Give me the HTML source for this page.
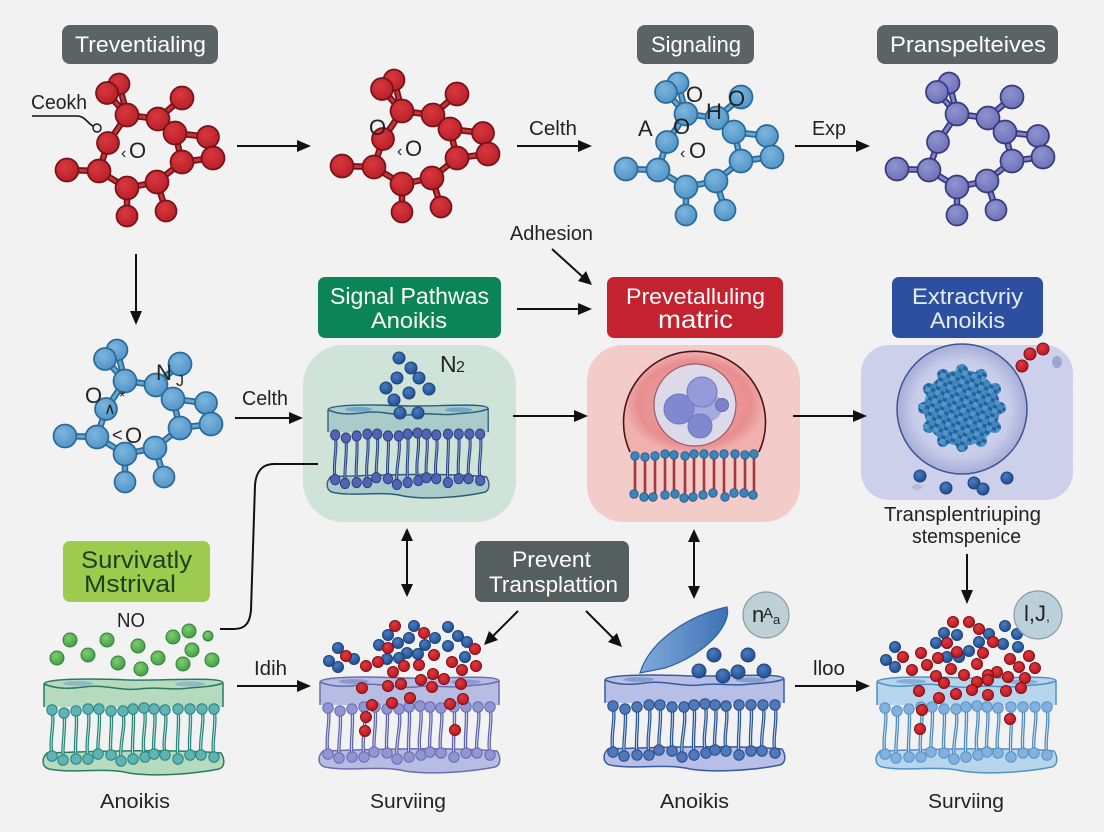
<!DOCTYPE html>
<html><head><meta charset="utf-8">
<style>
html,body{margin:0;padding:0;background:#f2f2f2}
svg{display:block}
text{font-family:"Liberation Sans",sans-serif;fill:#232323;font-size:20px}
.hd{font-size:22px;fill:#fff}
.s55 circle{r:5.5px}.s7 circle{r:7px}.s6 circle{r:6px}
.ar{stroke:#111;stroke-width:2;fill:none}
.rd{fill:url(#gRed);stroke:#7e1016;stroke-width:1}
.bl{fill:url(#gBlue);stroke:#1c447a;stroke-width:1}
.gr{fill:url(#gGreen);stroke:#2f8038;stroke-width:1}
</style></head>
<body>
<svg width="1104" height="832" viewBox="0 0 1104 832" xmlns="http://www.w3.org/2000/svg">
<defs>
<radialGradient id="gRed" cx=".4" cy=".35" r=".7"><stop offset="0" stop-color="#e0383e"/><stop offset="1" stop-color="#b5161e"/></radialGradient>
<radialGradient id="gBlue" cx=".4" cy=".35" r=".7"><stop offset="0" stop-color="#4a7cc0"/><stop offset="1" stop-color="#1f4b90"/></radialGradient>
<radialGradient id="gGreen" cx=".4" cy=".35" r=".7"><stop offset="0" stop-color="#7fcc6f"/><stop offset="1" stop-color="#409c45"/></radialGradient>
<radialGradient id="gRedA" cx=".4" cy=".35" r=".7"><stop offset="0" stop-color="#d8383e"/><stop offset="1" stop-color="#b81f26"/></radialGradient>
<radialGradient id="gSky" cx=".4" cy=".35" r=".7"><stop offset="0" stop-color="#7db6de"/><stop offset="1" stop-color="#4f93c6"/></radialGradient>
<radialGradient id="gPur" cx=".4" cy=".35" r=".7"><stop offset="0" stop-color="#8f94cf"/><stop offset="1" stop-color="#6b70b6"/></radialGradient>
<radialGradient id="gCell" cx=".5" cy=".5" r=".5"><stop offset="0" stop-color="#dfe2f3"/><stop offset=".75" stop-color="#c6cbe8"/><stop offset="1" stop-color="#a6add8"/></radialGradient>
<radialGradient id="gDome" cx=".5" cy=".5" r=".5"><stop offset="0" stop-color="#f2a8a8"/><stop offset=".8" stop-color="#e88e90"/><stop offset="1" stop-color="#f0b0ae"/></radialGradient>
<linearGradient id="gLeaf" x1="0" y1="0" x2="1" y2="0"><stop offset="0" stop-color="#7eaadb"/><stop offset="1" stop-color="#3f72b6"/></linearGradient>
<pattern id="pc" width="10" height="9" patternUnits="userSpaceOnUse" patternTransform="rotate(18)">
<rect width="10" height="9" fill="#25609c"/>
<circle cx="2.5" cy="2.2" r="3.4" fill="#4f97c9"/><circle cx="7.5" cy="6.7" r="3.4" fill="#4288bd"/>
</pattern>

<path id="bonds" d="M119 84L127 115M107 93L127 115M127 115L158 119M127 115L108 143M158 119L182 98M158 119L175 133M175 133L208 137M175 133L182 162M208 137L213 158M213 158L182 162M182 162L157 182M157 182L127 188M157 182L166 211M127 188L127 216M127 188L99 171M99 171L67 170M99 171L108 143"/>
<g id="mol">
<use href="#bonds" style="fill:none;stroke:var(--s);stroke-width:6.5"/>
<use href="#bonds" style="fill:none;stroke:var(--f2);stroke-width:3"/>
<g style="fill:var(--f);stroke:var(--s);stroke-width:1.7">
<circle cx="119" cy="84" r="10.5"/><circle cx="107" cy="93" r="11"/><circle cx="127" cy="115" r="11.5"/><circle cx="182" cy="98" r="11.5"/><circle cx="158" cy="119" r="11.5"/><circle cx="175" cy="133" r="11.5"/><circle cx="208" cy="137" r="11"/><circle cx="213" cy="158" r="11.5"/><circle cx="182" cy="162" r="11.5"/><circle cx="157" cy="182" r="11.5"/><circle cx="127" cy="188" r="11.5"/><circle cx="127" cy="216" r="10.5"/><circle cx="166" cy="211" r="10.5"/><circle cx="99" cy="171" r="11.5"/><circle cx="67" cy="170" r="11.5"/><circle cx="108" cy="143" r="11"/>
</g>
</g>

<path id="tails" d="M8 33C11 47 5 62 8 79M20 36C22 50 18 66 19 83M32 34C34 50 30 66 32 82M44 32C47 48 41 64 44 82M55 32C57 48 53 62 54 77M67 34C69 48 65 64 67 78M79 36C82 50 75 68 77 84M89 32C91 48 87 64 89 82M100 31C104 46 96 64 101 80M110 32C113 46 108 62 110 77M121 33C124 48 118 62 121 78M134 32C136 48 132 66 134 82M146 32C148 46 144 62 146 78M158 32C161 46 155 62 157 78M170 32C173 48 167 64 170 80"/>
<g id="mem">
<path d="M3 76C-3 82-2 90 5 92C30 97 60 90 85 96C110 100 150 97 175 92C181 90 181 82 177 76C130 72 60 74 3 76Z" style="fill:var(--fa);stroke:var(--st);stroke-width:1.5"/>
<path d="M0 7C0 2 40 1 85 3C120 4 179-1 179 6V30H0Z" style="fill:var(--fa)"/>
<ellipse cx="34" cy="6.5" rx="15" ry="2.5" style="fill:var(--e)"/>
<ellipse cx="146" cy="7" rx="15" ry="2.5" style="fill:var(--e)"/>
<path d="M0 30V7C0 2 40 1 85 3C120 4 179-1 179 6V30M0 7C12 12 25 12 40 10C60 7 75 14 95 12C115 9 125 14 145 11C160 10 172 9 179 6" style="fill:none;stroke:var(--st);stroke-width:1.5"/>
<use href="#tails" style="fill:none;stroke:var(--t);stroke-width:3.4"/>
<use href="#tails" style="fill:none;stroke:var(--t2);stroke-width:.9"/>
<g style="fill:var(--h);stroke:var(--hs);stroke-width:1.1">
<circle cx="8" cy="33" r="5.2"/><circle cx="20" cy="36" r="5.2"/><circle cx="32" cy="34" r="5.2"/><circle cx="44" cy="32" r="5.2"/><circle cx="55" cy="32" r="5.2"/><circle cx="67" cy="34" r="5.2"/><circle cx="79" cy="34" r="5.2"/><circle cx="89" cy="32" r="5.2"/><circle cx="100" cy="31" r="5.2"/><circle cx="110" cy="32" r="5.2"/><circle cx="121" cy="33" r="5.2"/><circle cx="134" cy="32" r="5.2"/><circle cx="146" cy="32" r="5.2"/><circle cx="158" cy="32" r="5.2"/><circle cx="170" cy="32" r="5.2"/>
<circle cx="8" cy="79" r="5.2"/><circle cx="19" cy="83" r="5.2"/><circle cx="32" cy="82" r="5.2"/><circle cx="44" cy="82" r="5.2"/><circle cx="54" cy="77" r="5.2"/><circle cx="67" cy="78" r="5.2"/><circle cx="77" cy="84" r="5.2"/><circle cx="89" cy="82" r="5.2"/><circle cx="101" cy="80" r="5.2"/><circle cx="110" cy="77" r="5.2"/><circle cx="121" cy="78" r="5.2"/><circle cx="134" cy="82" r="5.2"/><circle cx="146" cy="78" r="5.2"/><circle cx="157" cy="78" r="5.2"/><circle cx="170" cy="80" r="5.2"/>
</g>
</g>
</defs>

<rect width="1104" height="832" fill="#f2f2f2"/>

<!-- panels -->
<rect x="303" y="345" width="213" height="177" rx="40" fill="#cfe3d9"/>
<rect x="587" y="345" width="213" height="177" rx="36" fill="#f3cbc8"/>
<rect x="861" y="345" width="212" height="155" rx="28" fill="#cdd0ea"/>

<!-- molecules -->
<use href="#mol" style="--f:url(#gRedA);--f2:#c8343a;--s:#741218"/>
<use href="#mol" transform="translate(275,-4)" style="--f:url(#gRedA);--f2:#c8343a;--s:#741218"/>
<use href="#mol" transform="translate(559,-1)" style="--f:url(#gSky);--f2:#66a6d2;--s:#2a6a9a"/>
<use href="#mol" transform="translate(830,-1)" style="--f:url(#gPur);--f2:#7f84c4;--s:#38397f"/>
<use href="#mol" transform="translate(-2,266)" style="--f:url(#gSky);--f2:#66a6d2;--s:#2a6a9a"/>

<!-- membranes -->
<use href="#mem" transform="translate(328,403) scale(.895,.97)" style="--fa:#a9cbc9;--st:#2c5d7a;--h:#5064b2;--hs:#2e3f88;--t:#2c4a88;--t2:#9fb4d0;--e:#6fa6cf"/>
<use href="#mem" transform="translate(44,677)" style="--fa:#b5dabd;--st:#2a7a5e;--h:#5fb3b3;--hs:#2c8886;--t:#2a8a7e;--t2:#c7e6de;--e:#8fb8c8"/>
<use href="#mem" transform="translate(320,675)" style="--fa:#b7bce3;--st:#6a6eb0;--h:#8f96d2;--hs:#6a70b4;--t:#6067ae;--t2:#d5d8ef;--e:#8f97d2"/>
<use href="#mem" transform="translate(605,673)" style="--fa:#b8bfe6;--st:#3a5aa0;--h:#5077b8;--hs:#2a4f8f;--t:#2f5a9c;--t2:#c9d4ec;--e:#7f9fd0"/>
<use href="#mem" transform="translate(877,675)" style="--fa:#b7d5ed;--st:#5590c4;--h:#82b1dd;--hs:#5c94c8;--t:#4f8cc0;--t2:#d5e6f4;--e:#86b0dc"/>

<!-- N2 cluster -->
<g class="bl s6"><circle cx="399" cy="358"/><circle cx="411" cy="368"/><circle cx="397" cy="378"/><circle cx="419" cy="378"/><circle cx="386" cy="388"/><circle cx="409" cy="393"/><circle cx="429" cy="389"/><circle cx="394" cy="400"/><circle cx="400" cy="413"/><circle cx="418" cy="413"/></g>

<!-- pink cell -->
<path d="M630 452A71 71 0 1 1 759 452L754 455H635Z" fill="url(#gDome)"/>
<path d="M630 452A71 71 0 1 1 759 452" fill="none" stroke="#4a1418" stroke-width="1.6"/>
<circle cx="695" cy="405" r="41" fill="#dcd9e8" stroke="#9a5a6a" stroke-width="1.2"/>
<circle cx="707" cy="407" r="15" fill="#a5abdc"/>
<circle cx="679" cy="409" r="15" fill="#8088d0" stroke="#7078c2"/>
<circle cx="702" cy="392" r="15" fill="#949bd8" stroke="#7078c2"/>
<circle cx="700" cy="426" r="12" fill="#8088d0" stroke="#7078c2"/>
<circle cx="722" cy="405" r="6.5" fill="#7c82c8" stroke="#666cb6"/>
<path d="M635 456V494M645 457V497M655 456V497M665 454V495M674 455V494M685 456V498M694 454V497M704 454V495M714 455V493M724 454V497M735 454V493M745 455V493M754 454V495" stroke="#a5383c" stroke-width="2.6" fill="none"/>
<g fill="#3a86b8" stroke="#2a5f92"><circle cx="635" cy="456" r="4.2"/><circle cx="645" cy="457" r="4.2"/><circle cx="655" cy="456" r="4.2"/><circle cx="665" cy="454" r="4.2"/><circle cx="674" cy="455" r="4.2"/><circle cx="685" cy="456" r="4.2"/><circle cx="694" cy="454" r="4.2"/><circle cx="704" cy="454" r="4.2"/><circle cx="714" cy="455" r="4.2"/><circle cx="724" cy="454" r="4.2"/><circle cx="735" cy="454" r="4.2"/><circle cx="745" cy="455" r="4.2"/><circle cx="754" cy="454" r="4.2"/><circle cx="634" cy="494" r="4.2"/><circle cx="644" cy="497" r="4.2"/><circle cx="653" cy="497" r="4.2"/><circle cx="665" cy="495" r="4.2"/><circle cx="675" cy="494" r="4.2"/><circle cx="684" cy="498" r="4.2"/><circle cx="693" cy="497" r="4.2"/><circle cx="703" cy="495" r="4.2"/><circle cx="713" cy="493" r="4.2"/><circle cx="725" cy="497" r="4.2"/><circle cx="734" cy="493" r="4.2"/><circle cx="744" cy="493" r="4.2"/><circle cx="753" cy="495" r="4.2"/></g>

<!-- purple cell -->
<circle cx="962" cy="409" r="65" fill="url(#gCell)" stroke="#3f5590" stroke-width="1.5"/>
<g fill="url(#pc)"><circle cx="962" cy="408" r="38"/><circle cx="1000" cy="408" r="6"/><circle cx="995" cy="427" r="6"/><circle cx="981" cy="441" r="6"/><circle cx="962" cy="446" r="6"/><circle cx="943" cy="441" r="6"/><circle cx="929" cy="427" r="6"/><circle cx="924" cy="408" r="6"/><circle cx="929" cy="389" r="6"/><circle cx="943" cy="375" r="6"/><circle cx="962" cy="370" r="6"/><circle cx="981" cy="375" r="6"/><circle cx="995" cy="389" r="6"/></g>
<g class="rd s6"><circle cx="1022" cy="366"/><circle cx="1030" cy="354"/><circle cx="1043" cy="349"/></g>
<ellipse cx="1057" cy="362" rx="5" ry="6" fill="#9da5cf"/>
<ellipse cx="917" cy="487" rx="5" ry="3" fill="#b4bad8"/>
<g class="bl s6"><circle cx="920" cy="476"/><circle cx="946" cy="488"/><circle cx="974" cy="483"/><circle cx="983" cy="489"/><circle cx="1007" cy="478"/></g>

<!-- green balls -->
<g class="gr s7"><circle cx="70" cy="640"/><circle cx="107" cy="640"/><circle cx="57" cy="658"/><circle cx="88" cy="655"/><circle cx="118" cy="663"/><circle cx="138" cy="646"/><circle cx="141" cy="669"/><circle cx="158" cy="658"/><circle cx="173" cy="637"/><circle cx="189" cy="631"/><circle cx="208" cy="636" style="r:5px"/><circle cx="192" cy="650"/><circle cx="183" cy="664"/><circle cx="212" cy="660"/></g>

<!-- purple membrane balls -->
<g class="bl s55"><circle cx="338" cy="648"/><circle cx="329" cy="661"/><circle cx="338" cy="667"/><circle cx="354" cy="659"/><circle cx="388" cy="635"/><circle cx="414" cy="626"/><circle cx="409" cy="638"/><circle cx="398" cy="643"/><circle cx="379" cy="645"/><circle cx="435" cy="638"/><circle cx="425" cy="645"/><circle cx="407" cy="653"/><circle cx="418" cy="654"/><circle cx="387" cy="659"/><circle cx="399" cy="658"/><circle cx="448" cy="627"/><circle cx="458" cy="636"/><circle cx="467" cy="642"/><circle cx="448" cy="646"/><circle cx="465" cy="657"/></g>
<g class="rd s55"><circle cx="395" cy="626"/><circle cx="424" cy="633"/><circle cx="388" cy="648"/><circle cx="378" cy="662"/><circle cx="366" cy="666"/><circle cx="346" cy="656"/><circle cx="434" cy="655"/><circle cx="452" cy="662"/><circle cx="475" cy="649"/><circle cx="476" cy="666"/><circle cx="462" cy="670"/><circle cx="393" cy="672"/><circle cx="404" cy="666"/><circle cx="419" cy="665"/><circle cx="433" cy="674"/><circle cx="444" cy="679"/><circle cx="461" cy="684"/><circle cx="421" cy="680"/><circle cx="432" cy="687"/><circle cx="401" cy="684"/><circle cx="388" cy="686"/><circle cx="362" cy="688"/><circle cx="410" cy="698"/><circle cx="463" cy="699"/><circle cx="450" cy="704"/><circle cx="392" cy="703"/><circle cx="372" cy="705"/><circle cx="366" cy="717"/><circle cx="365" cy="731"/><circle cx="455" cy="730"/></g>

<!-- blue membrane -->
<path d="M640 673C650 640 690 615 727 607C732 625 705 655 665 668Z" fill="url(#gLeaf)" stroke="#2f5f9e" stroke-width="1.2"/>
<g class="bl s7"><circle cx="714" cy="655"/><circle cx="748" cy="655"/><circle cx="699" cy="671"/><circle cx="723" cy="676"/><circle cx="738" cy="672"/><circle cx="764" cy="671"/></g>
<circle cx="766" cy="615" r="23" fill="#bcd0d6" stroke="#8a9aa2" stroke-width="1.2"/>
<text x="752" y="622" style="font-size:22px">n</text>
<text x="763" y="618" style="font-size:15px">A</text>
<text x="773" y="624" style="font-size:13px">a</text>

<!-- light blue membrane balls -->
<g class="bl s55"><circle cx="895" cy="647"/><circle cx="886" cy="660"/><circle cx="895" cy="667"/><circle cx="944" cy="633"/><circle cx="957" cy="635"/><circle cx="936" cy="643"/><circle cx="979" cy="642"/><circle cx="989" cy="634"/><circle cx="1005" cy="626"/><circle cx="1017" cy="634"/><circle cx="1003" cy="644"/><circle cx="1018" cy="647"/><circle cx="969" cy="651"/><circle cx="959" cy="657"/><circle cx="947" cy="657"/></g>
<g class="rd s55"><circle cx="953" cy="622"/><circle cx="969" cy="622"/><circle cx="979" cy="629"/><circle cx="947" cy="643"/><circle cx="993" cy="642"/><circle cx="983" cy="653"/><circle cx="957" cy="652"/><circle cx="938" cy="658"/><circle cx="921" cy="653"/><circle cx="903" cy="657"/><circle cx="912" cy="670"/><circle cx="927" cy="665"/><circle cx="951" cy="669"/><circle cx="977" cy="664"/><circle cx="1010" cy="659"/><circle cx="1029" cy="656"/><circle cx="1019" cy="667"/><circle cx="1035" cy="668"/><circle cx="997" cy="672"/><circle cx="964" cy="675"/><circle cx="936" cy="676"/><circle cx="944" cy="683"/><circle cx="977" cy="682"/><circle cx="988" cy="675"/><circle cx="988" cy="680"/><circle cx="1008" cy="677"/><circle cx="1025" cy="678"/><circle cx="1021" cy="688"/><circle cx="1006" cy="691"/><circle cx="972" cy="690"/><circle cx="956" cy="694"/><circle cx="988" cy="695"/><circle cx="939" cy="698"/><circle cx="919" cy="691"/><circle cx="922" cy="710"/><circle cx="920" cy="729"/><circle cx="1010" cy="719"/></g>
<circle cx="1038" cy="615" r="24" fill="#bcd0da" stroke="#8a9aa6" stroke-width="1.2"/>
<text x="1024" y="621" style="font-size:22px">l,J</text><text x="1046" y="621" style="font-size:14px">,</text>

<!-- headers -->
<rect x="62" y="25" width="156" height="39" rx="8" fill="#5a6365"/>
<text class="hd" x="75" y="52" textLength="131" lengthAdjust="spacingAndGlyphs">Treventialing</text>
<rect x="637" y="25" width="117" height="39" rx="8" fill="#5a6365"/>
<text class="hd" x="651" y="52" textLength="90" lengthAdjust="spacingAndGlyphs">Signaling</text>
<rect x="877" y="25" width="181" height="39" rx="8" fill="#5a6365"/>
<text class="hd" x="890" y="52" textLength="156" lengthAdjust="spacingAndGlyphs">Pranspelteives</text>

<rect x="318" y="277" width="183" height="61" rx="7" fill="#0b8457"/>
<text class="hd" x="330" y="304" textLength="159" lengthAdjust="spacingAndGlyphs" style="font-size:23px">Signal Pathwas</text>
<text class="hd" x="371" y="328" textLength="76" lengthAdjust="spacingAndGlyphs">Anoikis</text>
<rect x="607" y="277" width="176" height="61" rx="7" fill="#c4222e"/>
<text class="hd" x="626" y="304" textLength="139" lengthAdjust="spacingAndGlyphs">Prevetalluling</text>
<text class="hd" x="658" y="328" textLength="75" lengthAdjust="spacingAndGlyphs" style="font-size:25px">matric</text>
<rect x="892" y="277" width="151" height="61" rx="7" fill="#2c509f"/>
<text class="hd" x="912" y="304" textLength="111" lengthAdjust="spacingAndGlyphs" style="fill:#e6ecf8">Extractvriy</text>
<text class="hd" x="930" y="328" textLength="75" lengthAdjust="spacingAndGlyphs" style="fill:#e6ecf8">Anoikis</text>
<rect x="63" y="541" width="147" height="61" rx="7" fill="#9ccb4e"/>
<text x="81" y="568" textLength="111" lengthAdjust="spacingAndGlyphs" style="font-size:24px;fill:#1f3f20">Survivatly</text>
<text x="84" y="592" textLength="92" lengthAdjust="spacingAndGlyphs" style="font-size:24px;fill:#1f3f20">Mstrival</text>
<rect x="475" y="541" width="154" height="61" rx="7" fill="#555f60"/>
<text class="hd" x="512" y="567" textLength="79" lengthAdjust="spacingAndGlyphs">Prevent</text>
<text class="hd" x="489" y="592" textLength="129" lengthAdjust="spacingAndGlyphs">Transplattion</text>

<!-- labels -->
<text x="31" y="109" textLength="56" lengthAdjust="spacingAndGlyphs">Ceokh</text>
<path d="M32 116H77C85 116 87 123 93 126" fill="none" stroke="#111" stroke-width="1.6"/>
<circle cx="97" cy="128" r="4" fill="#f2f2f2" stroke="#111" stroke-width="1.4"/>
<text x="529" y="135" textLength="48" lengthAdjust="spacingAndGlyphs">Celth</text>
<text x="812" y="135" textLength="34" lengthAdjust="spacingAndGlyphs">Exp</text>
<text x="510" y="240" textLength="83" lengthAdjust="spacingAndGlyphs">Adhesion</text>
<text x="440" y="372" style="font-size:23px">N</text><text x="456" y="372" style="font-size:16px">2</text>
<text x="242" y="405" textLength="46" lengthAdjust="spacingAndGlyphs">Celth</text>
<text x="117" y="627" textLength="28" lengthAdjust="spacingAndGlyphs">NO</text>
<text x="254" y="675" textLength="33" lengthAdjust="spacingAndGlyphs">Idih</text>
<text x="813" y="675" textLength="32" lengthAdjust="spacingAndGlyphs">lloo</text>
<text x="884" y="521" textLength="157" lengthAdjust="spacingAndGlyphs">Transplentriuping</text>
<text x="912" y="543" textLength="109" lengthAdjust="spacingAndGlyphs">stemspenice</text>
<text x="100" y="808" textLength="70" lengthAdjust="spacingAndGlyphs">Anoikis</text>
<text x="370" y="808" textLength="76" lengthAdjust="spacingAndGlyphs">Surviing</text>
<text x="660" y="808" textLength="69" lengthAdjust="spacingAndGlyphs">Anoikis</text>
<text x="928" y="808" textLength="76" lengthAdjust="spacingAndGlyphs">Surviing</text>

<!-- molecule labels -->
<text x="121" y="158" style="font-size:16px">&#8249;</text><text x="129" y="158" style="font-size:22px">O</text>
<text x="369" y="135" style="font-size:22px">O</text>
<text x="397" y="156" style="font-size:16px">&#8249;</text><text x="405" y="156" style="font-size:22px">O</text>
<text x="686" y="102" style="font-size:22px">O</text>
<text x="706" y="119" style="font-size:22px">H</text>
<text x="728" y="106" style="font-size:22px">O</text>
<text x="673" y="134" style="font-size:22px">O</text>
<text x="638" y="136" style="font-size:22px">A</text>
<text x="680" y="158" style="font-size:16px">&#8249;</text><text x="689" y="158" style="font-size:22px">O</text>
<text x="85" y="403" style="font-size:22px">O</text>
<text x="156" y="380" style="font-size:22px">N</text>
<text x="176" y="386" style="font-size:16px">J</text>
<text x="104" y="414" style="font-size:16px">&#8743;</text>
<text x="119" y="402" style="font-size:16px">*</text>
<text x="112" y="441" style="font-size:18px">&lt;</text><text x="125" y="443" style="font-size:22px">O</text>

<!-- arrows -->
<g class="ar">
<path d="M237 146H300"/><path d="M517 146H581"/><path d="M795 146H859"/>
<path d="M136 254V314"/><path d="M552 249L584 278"/><path d="M517 309H581"/>
<path d="M235 418H292"/><path d="M513 416H577"/><path d="M793 416H856"/>
<path d="M407 538V587"/><path d="M694 539V589"/><path d="M967 554V593"/>
<path d="M237 686H300"/><path d="M795 686H859"/>
<path d="M518 611L491 638"/><path d="M586 611L614 639"/>
<path d="M220 629H234C246 629 250 622 251 610L255 485C256 472 262 464 274 464H318"/>
</g>
<g fill="#111">
<path d="M311 146L297 140V152Z"/><path d="M592 146L578 140V152Z"/><path d="M870 146L856 140V152Z"/>
<path d="M136 325L130 311H142Z"/><path d="M592 285L578 281L586 271Z"/><path d="M592 309L578 303V315Z"/>
<path d="M303 418L289 412V424Z"/><path d="M588 416L574 410V422Z"/><path d="M867 416L853 410V422Z"/>
<path d="M407 528L401 541H413Z"/><path d="M407 597L401 584H413Z"/>
<path d="M694 529L688 542H700Z"/><path d="M694 599L688 586H700Z"/>
<path d="M967 604L961 590H973Z"/>
<path d="M311 686L297 680V692Z"/><path d="M870 686L856 680V692Z"/>
<path d="M484 645L489 631L498 640Z"/><path d="M622 647L608 642L617 633Z"/>
</g>
</svg>
</body></html>
